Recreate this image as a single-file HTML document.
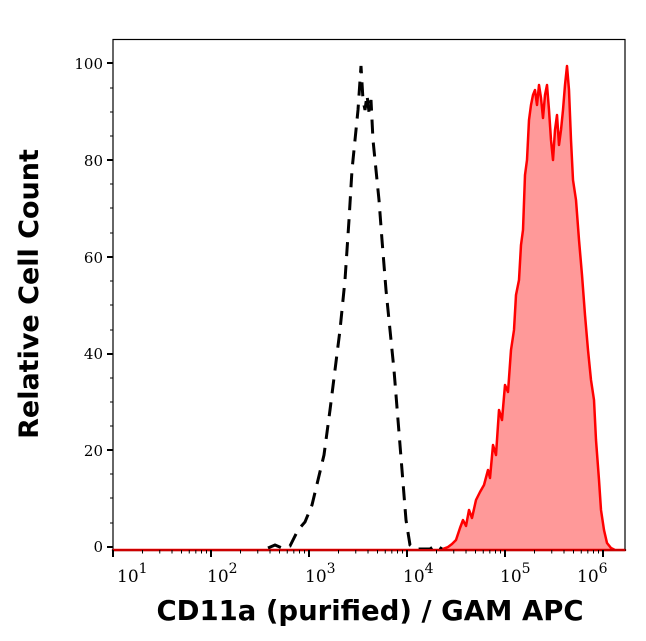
<!DOCTYPE html>
<html><head><meta charset="utf-8"><style>
body{margin:0;background:#fff;}
svg{display:block}
</style></head><body>
<svg width="646" height="641" viewBox="0 0 646 641" xmlns="http://www.w3.org/2000/svg">
<rect width="646" height="641" fill="#fff"/>
<path d="M113,550 L440,550 L448,547 L452,544 L456,540 L460,528 L463,520 L466,526 L469,510 L472,518 L476,500 L480,492 L484,485 L488,470 L490,478 L493,445 L496,455 L499,410 L502,420 L505,385 L508,392 L511,350 L514,330 L516,295 L519,280 L521,245 L523,230 L525,175 L527,160 L529,120 L531,105 L533,95 L535,90 L537,105 L539,85 L541,98 L543,118 L545,95 L547,85 L549,110 L551,140 L553,160 L555,130 L557,115 L559,145 L561,130 L563,110 L565,85 L567,66 L569,90 L571,140 L573,180 L576,200 L579,240 L582,275 L585,315 L588,350 L591,380 L594,400 L596,440 L599,480 L601,510 L604,530 L607,543 L611,548 L615,550 L625,550 Z" fill="#ff9999" stroke="#ff0000" stroke-width="2.5" stroke-linejoin="round"/>
<path d="M268,548 L275,545 L282,548 L290,546 L298,530 L305,522 L312,505 L318,480 L324,455 L330,410 L335,370 L340,330 L345,280 L349,220 L352,170 L355,140 L358,110 L361,66 L363,100 L365,110 L367,95 L369,112 L371,100 L373,140 L376,170 L379,200 L382,240 L386,290 L390,330 L394,370 L398,420 L402,470 L406,520 L410,545 L416,549 L430,549 L436,545 L442,549" fill="none" stroke="#000" stroke-width="3" stroke-dasharray="14,9"/>
<path d="M460,550 L625,550" stroke="#000" stroke-width="2" stroke-dasharray="10,14"/>
<rect x="113" y="39.5" width="512" height="511" fill="none" stroke="#000" stroke-width="1.2"/>
<line x1="113" y1="550" x2="625" y2="550" stroke="#cc0000" stroke-width="2"/>
<g stroke="#000" stroke-width="2">
<line x1="107" y1="547" x2="113" y2="547"/><line x1="107" y1="450" x2="113" y2="450"/><line x1="107" y1="354" x2="113" y2="354"/><line x1="107" y1="257" x2="113" y2="257"/><line x1="107" y1="160" x2="113" y2="160"/><line x1="107" y1="63" x2="113" y2="63"/>
</g>
<g stroke="#000" stroke-width="1">
<line x1="110" y1="498" x2="113" y2="498"/><line x1="110" y1="402" x2="113" y2="402"/><line x1="110" y1="305" x2="113" y2="305"/><line x1="110" y1="208" x2="113" y2="208"/><line x1="110" y1="112" x2="113" y2="112"/>
<line x1="110" y1="523" x2="113" y2="523"/><line x1="110" y1="474" x2="113" y2="474"/><line x1="110" y1="426" x2="113" y2="426"/><line x1="110" y1="378" x2="113" y2="378"/><line x1="110" y1="330" x2="113" y2="330"/><line x1="110" y1="281" x2="113" y2="281"/><line x1="110" y1="233" x2="113" y2="233"/><line x1="110" y1="184" x2="113" y2="184"/><line x1="110" y1="136" x2="113" y2="136"/><line x1="110" y1="88" x2="113" y2="88"/>
</g>
<g id="xt" stroke="#000"></g>
<g font-family="DejaVu Serif, Liberation Serif, serif" font-size="15" fill="#000" text-anchor="end">
<text x="103" y="552">0</text><text x="103" y="456">20</text><text x="103" y="359">40</text><text x="103" y="263">60</text><text x="103" y="166">80</text><text x="103" y="69">100</text>
</g>
<g font-family="DejaVu Serif, Liberation Serif, serif" font-size="17" fill="#000">
<text x="117" y="582">10<tspan font-size="14" dy="-9">1</tspan></text>
<text x="207" y="582">10<tspan font-size="14" dy="-9">2</tspan></text>
<text x="305" y="582">10<tspan font-size="14" dy="-9">3</tspan></text>
<text x="403" y="582">10<tspan font-size="14" dy="-9">4</tspan></text>
<text x="500" y="582">10<tspan font-size="14" dy="-9">5</tspan></text>
<text x="577" y="582">10<tspan font-size="14" dy="-9">6</tspan></text>
</g>
<text x="370" y="620" text-anchor="middle" font-family="DejaVu Sans, sans-serif" font-weight="bold" font-size="27.5">CD11a (purified) / GAM APC</text>
<text transform="translate(38,294) rotate(-90)" text-anchor="middle" font-family="DejaVu Sans, sans-serif" font-weight="bold" font-size="27">Relative Cell Count</text>
</svg>
<script>
var g=document.getElementById('xt'),s='';
for(var d=0;d<6;d++){for(var k=1;k<10;k++){var x=113+98*(d+Math.log10(k));if(x>625)break;var L=k==1?7:3.5;s+='<line x1="'+x+'" y1="550" x2="'+x+'" y2="'+(550+L)+'" stroke-width="'+(k==1?2:1)+'"/>';}}
g.innerHTML=s;
</script>
</body></html>
